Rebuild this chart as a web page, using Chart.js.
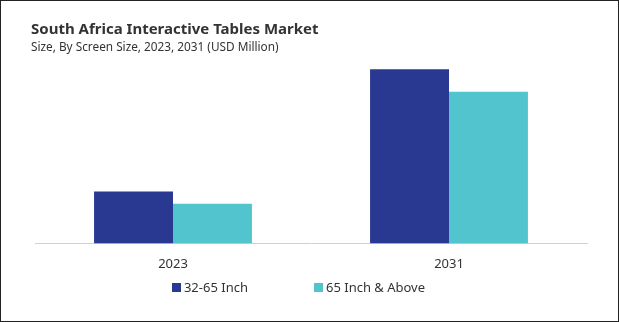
<!DOCTYPE html>
<html>
<head>
<meta charset="utf-8">
<script src="https://cdn.jsdelivr.net/npm/chart.js@4.4.1/dist/chart.umd.min.js"></script>
<style>
  html, body { margin: 0; padding: 0; background: #fff; }
  #wrap { position: relative; width: 619px; height: 322px; overflow: hidden; font-family: "Noto Sans", "Open Sans", sans-serif; }
  #frame { position: absolute; left: 0; top: 0; width: 617px; height: 320px; border: 1px solid #222; pointer-events: none; }
  #title { position: absolute; left: 31px; top: 18px; font-size: 15px; font-weight: 700; color: #333; white-space: nowrap; }
  #subtitle { position: absolute; left: 31px; top: 38px; font-size: 11.8px; color: #333; white-space: nowrap; }
  #legend { position: absolute; left: -11px; top: 278px; width: 619px; display: flex; justify-content: center; gap: 66px; font-size: 13px; color: #333; }
  #legend span.box { display: inline-block; width: 9px; height: 9px; margin-right: 3px; }
  canvas { position: absolute; left: 0; top: 0; }
</style>
</head>
<body>
<div id="wrap">
  <canvas id="chart" width="619" height="322"></canvas>
  <div id="title">South Africa Interactive Tables Market</div>
  <div id="subtitle">Size, By Screen Size, 2023, 2031 (USD Million)</div>
  <div id="legend"></div>
  <div id="frame"></div>
</div>
<script>
const years = ['2023', '2031'];
const seriesNames = ['32-65 Inch', '65 Inch & Above'];
const inch32to65 = [28.2, 94.5];
const inch65Above = [21.5, 82.3];
const colors = ['#293891', '#51C4CE'];

const ctx = document.getElementById('chart').getContext('2d');
new Chart(ctx, {
  type: 'bar',
  data: {
    labels: years,
    datasets: [
      { label: seriesNames[0], data: inch32to65, backgroundColor: colors[0] },
      { label: seriesNames[1], data: inch65Above, backgroundColor: colors[1] }
    ]
  },
  options: {
    responsive: false,
    animation: false,
    layout: { padding: { top: 59, left: 35, right: 32, bottom: 45 } },
    datasets: { bar: { barPercentage: 1, categoryPercentage: 0.572 } },
    scales: {
      y: { display: false, beginAtZero: true, max: 100 },
      x: {
        grid: { display: false },
        border: { color: '#d0d0d0' },
        ticks: { color: '#333', font: { family: 'Noto Sans', size: 13 }, padding: 5 }
      }
    },
    plugins: { legend: { display: false }, tooltip: { enabled: false } }
  }
});

// HTML legend
document.getElementById('legend').innerHTML = seriesNames.map((s, i) => `
  <div><span class="box" style="background:${colors[i]}"></span>${s.replace('&', '&amp;')}</div>
`).join('');
</script>
</body>
</html>
